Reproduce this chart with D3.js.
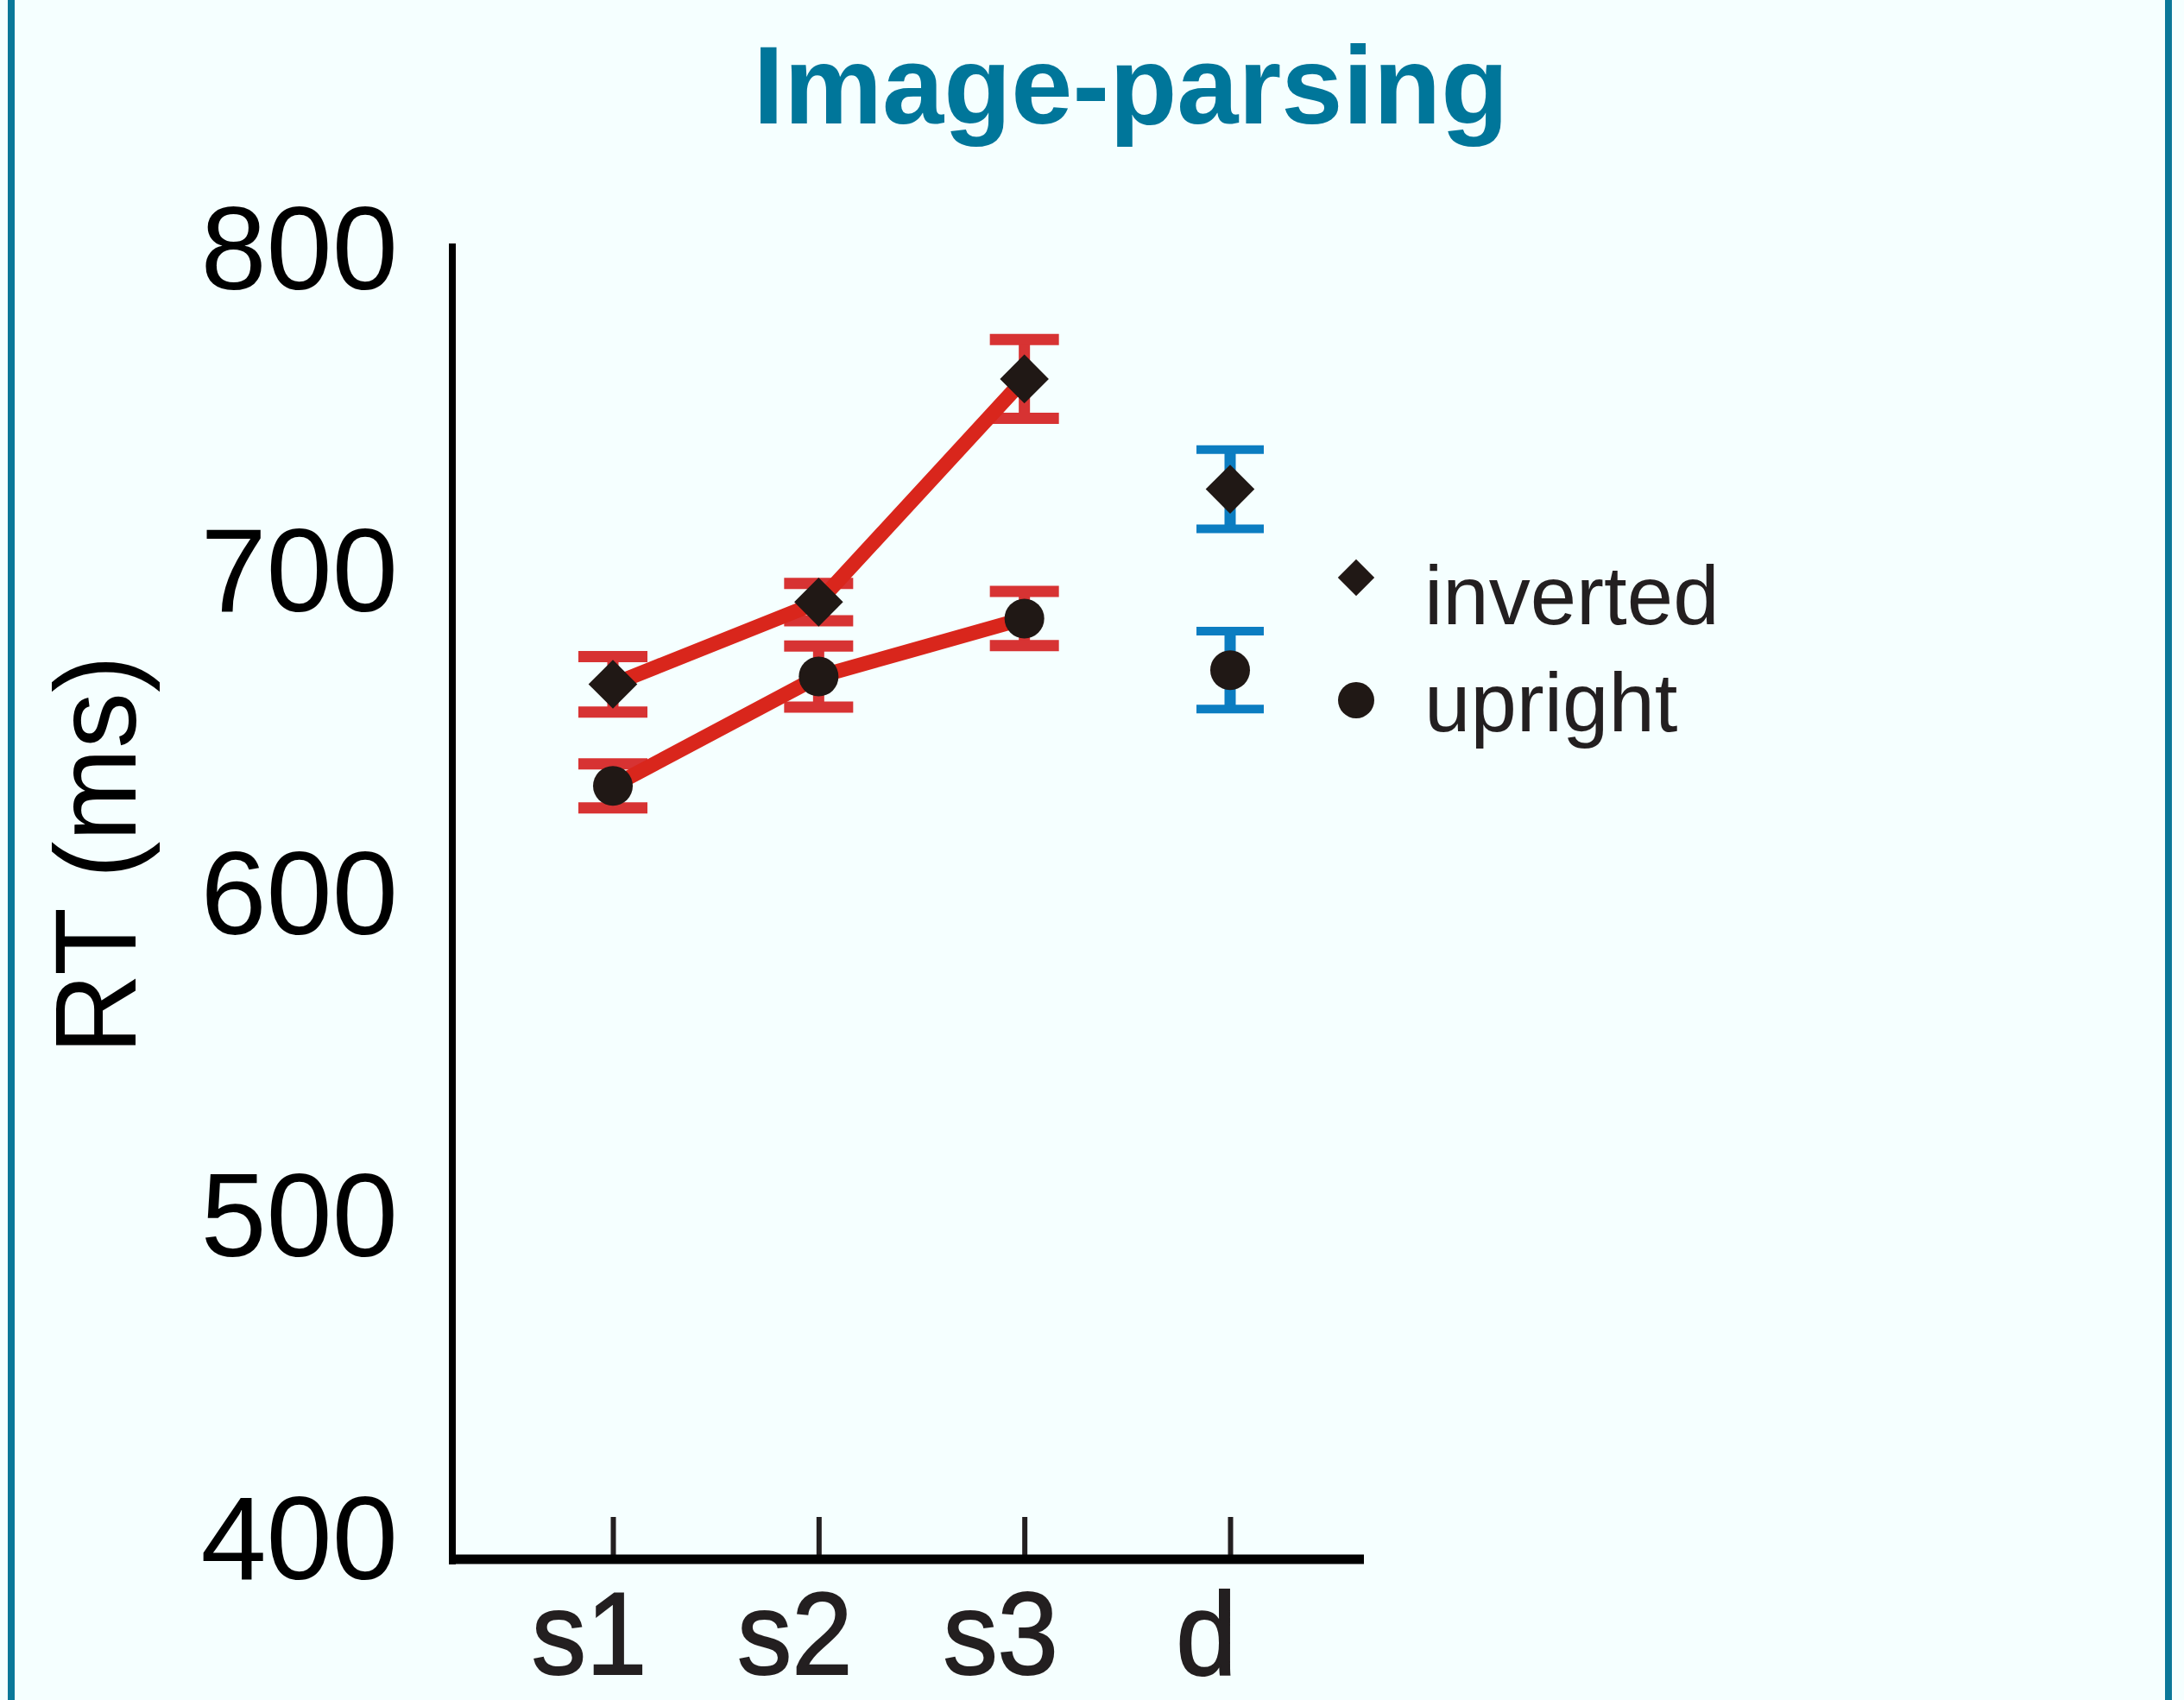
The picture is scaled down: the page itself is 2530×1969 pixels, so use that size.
<!DOCTYPE html>
<html>
<head>
<meta charset="utf-8">
<script src="https://cdn.jsdelivr.net/npm/d3@7"></script>
<style>
  html, body { margin: 0; padding: 0; background: #f5ffff; }
  svg { display: block; }
  text { font-family: "Liberation Sans", Arial, sans-serif; }
</style>
</head>
<body>
<svg id="chart" width="2530" height="1969"></svg>
<script>
// ---- data ----
const categories = ["s1", "s2", "s3", "d"];
const lineCategories = ["s1", "s2", "s3"];
const yTicks = [400, 500, 600, 700, 800];
const invertedMean = [664.1, 689.6, 758.8, 724.6];
const invertedErr  = [8.6, 5.8, 12.2, 12.3];
const uprightMean  = [632.6, 666.5, 684.5, 668.5];
const uprightErr   = [6.8, 9.5, 8.4, 12.1];
const legendLabels = ["inverted", "upright"];
const titleText = "Image-parsing";
const yTitle = "RT (ms)";

// ---- setup ----
const W = 2530, H = 1969;
const svg = d3.select("#chart");
svg.append("rect").attr("width", W).attr("height", H).attr("fill", "#f5ffff");

// side frame lines
svg.append("line").attr("x1", 13).attr("x2", 13).attr("y1", 0).attr("y2", H)
  .attr("stroke", "#0a7899").attr("stroke-width", 8);
svg.append("line").attr("x1", 2512).attr("x2", 2512).attr("y1", 0).attr("y2", H)
  .attr("stroke", "#0a7899").attr("stroke-width", 8);

const x = d3.scalePoint().domain(categories).range([710, 1425]);
const y = d3.scaleLinear().domain([400, 800]).range([1779, 285]);
const axisX0 = 524, axisY0 = 1806;

// title
svg.append("text").attr("x", 1310).attr("y", 143)
  .attr("text-anchor", "middle").attr("font-weight", "bold")
  .attr("font-size", 128).attr("fill", "#00769a").text(titleText);

// y axis title
svg.append("text")
  .attr("transform", "translate(157,990) rotate(-90)")
  .attr("text-anchor", "middle").attr("font-size", 134).attr("fill", "#000")
  .attr("textLength", 462).attr("lengthAdjust", "spacingAndGlyphs")
  .text(yTitle);

// y axis
const gy = svg.append("g").attr("transform", `translate(${axisX0},0)`)
  .call(d3.axisLeft(y).tickValues(yTicks).tickSize(0).tickPadding(63).tickFormat(d3.format("d")));
gy.select(".domain").remove();
gy.selectAll("text").attr("font-size", 137).attr("fill", "#000")
  .attr("font-family", "'Liberation Sans', Arial, sans-serif").attr("dy", "0.36em");
svg.append("line").attr("x1", axisX0).attr("x2", axisX0)
  .attr("y1", y(800) - 3).attr("y2", axisY0 + 6)
  .attr("stroke", "#000").attr("stroke-width", 8);

// x axis
const gx = svg.append("g").attr("transform", `translate(0,${axisY0})`)
  .call(d3.axisBottom(x).tickSizeInner(-49).tickSizeOuter(0).tickPadding(0));
gx.select(".domain").remove();
gx.selectAll(".tick line").attr("stroke", "#231f20").attr("stroke-width", 6);
gx.selectAll("text").attr("font-size", 136).attr("fill", "#231f20")
  .attr("font-family", "'Liberation Sans', Arial, sans-serif")
  .attr("y", 133).attr("dy", 0).attr("dx", -28)
  .attr("stroke", "#231f20").attr("stroke-width", 2)
  .each(function () {
    const L = this.getComputedTextLength();
    d3.select(this).attr("textLength", L * 0.93).attr("lengthAdjust", "spacingAndGlyphs");
  });
svg.append("line").attr("x1", axisX0 - 2).attr("x2", 1580)
  .attr("y1", axisY0).attr("y2", axisY0)
  .attr("stroke", "#000").attr("stroke-width", 11);

// ---- error bars ----
function errorBars(means, errs) {
  const g = svg.append("g");
  categories.forEach((c, i) => {
    const isD = c === "d";
    const col = isD ? "#0b7dc1" : "#d73333";
    const capW = isD ? 78 : 80;
    const capT = isD ? 10 : 13;
    const cx = x(c);
    const top = y(means[i] + errs[i]), bot = y(means[i] - errs[i]);
    g.append("line").attr("x1", cx).attr("x2", cx).attr("y1", top).attr("y2", bot)
      .attr("stroke", col).attr("stroke-width", 13);
    [top, bot].forEach(yy => {
      g.append("line").attr("x1", cx - capW / 2).attr("x2", cx + capW / 2)
        .attr("y1", yy).attr("y2", yy).attr("stroke", col).attr("stroke-width", capT);
    });
  });
}
errorBars(invertedMean, invertedErr);
errorBars(uprightMean, uprightErr);

// ---- lines ----
const line = d3.line().x(d => x(d.c)).y(d => y(d.v));
[invertedMean, uprightMean].forEach(series => {
  const pts = lineCategories.map((c, i) => ({ c, v: series[i] }));
  svg.append("path").attr("d", line(pts)).attr("fill", "none")
    .attr("stroke", "#d9261c").attr("stroke-width", 17).attr("stroke-linejoin", "round");
});

// ---- markers ----
const markFill = "#201815";
const diamondBig = d3.symbol().type(d3.symbolSquare).size(1600);
categories.forEach((c, i) => {
  svg.append("path").attr("d", diamondBig())
    .attr("transform", `translate(${x(c)},${y(invertedMean[i])}) rotate(45)`)
    .attr("fill", markFill);
  svg.append("circle").attr("cx", x(c)).attr("cy", y(uprightMean[i])).attr("r", 23)
    .attr("fill", markFill);
});

// ---- legend ----
const lg = svg.append("g");
lg.append("path").attr("d", d3.symbol().type(d3.symbolSquare).size(900)())
  .attr("transform", "translate(1571,669) rotate(45)").attr("fill", markFill);
lg.append("circle").attr("cx", 1571).attr("cy", 811).attr("r", 21).attr("fill", markFill);
lg.append("text").attr("x", 1650).attr("y", 723).attr("font-size", 96)
  .attr("fill", "#231f20").text(legendLabels[0]);
lg.append("text").attr("x", 1650).attr("y", 847).attr("font-size", 96)
  .attr("fill", "#231f20").text(legendLabels[1]);
</script>
</body>
</html>
